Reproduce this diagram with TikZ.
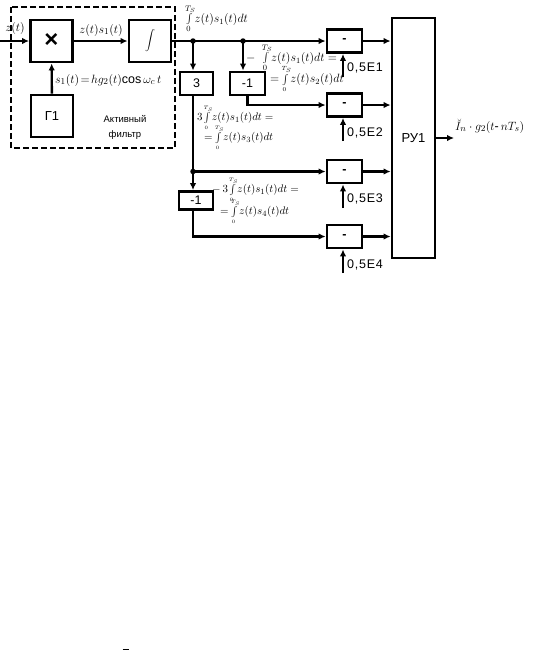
\documentclass[tikz,border=0pt]{standalone}
\usepackage{fontspec}
\setmainfont{Liberation Sans}
\usetikzlibrary{arrows.meta}
\begin{document}
\begin{tikzpicture}[x=1pt,y=-1pt,
  blk/.style={draw,line width=2.8pt,inner sep=0pt,minimum width=35pt,minimum height=23pt,font=\fontsize{12.5}{14}\selectfont},
  big/.style={draw,line width=2.8pt,inner sep=0pt,minimum width=42pt,minimum height=42pt,font=\fontsize{13}{15}\selectfont},
  wire/.style={line width=2.4pt},
  arr/.style={wire,-{Latex[length=7pt,width=6.5pt]}},
  lbl/.style={inner sep=0pt,anchor=west},
  fml/.style={inner sep=0pt,anchor=west,font=\fontsize{11.5}{13}\selectfont},
  sfml/.style={inner sep=0pt,anchor=west,font=\fontsize{11}{12}\selectfont},
  jdot/.style={circle,fill,inner sep=0pt,minimum size=5.5pt},
  ctl/.style={inner sep=0pt,anchor=west,font=\fontsize{12.5}{14}\selectfont\addfontfeatures{LetterSpace=6}}]
\useasboundingbox (0,0) rectangle (536,651);

% active filter frame
\draw[dashed,line width=1.6pt,dash pattern=on 6pt off 3pt] (11,7) rectangle (175,148);

% blocks
\node[big] (mul) at (51.5,41) {\fontsize{24}{26}\selectfont\textbf{×}};
\node[big] (int) at (150,41) {\fontsize{14}{16}\selectfont$\displaystyle\int$};
\node[big] (g1) at (52,116) {Г1};
\node[blk,minimum width=33pt] (b3) at (196.5,83.5) {3};
\node[blk] (n1) at (247.5,83.5) {-1};
\node[blk,minimum width=34pt,minimum height=18pt] (n2) at (196,200.5) {-1};
\node[blk] (m1) at (344.5,41) {\textbf{-}};
\node[blk] (m2) at (344.5,105) {\textbf{-}};
\node[blk] (m3) at (344.5,171.5) {\textbf{-}};
\node[blk] (m4) at (344.5,236.5) {\textbf{-}};
\node[draw,line width=2.8pt,minimum width=43pt,minimum height=240pt,inner sep=0pt,font=\fontsize{13}{15}\selectfont] (ru) at (413.5,138) {РУ1};

% coordinates
\coordinate (in) at (0,41);
\node[jdot] (j1) at (193,41) {};
\node[jdot] (j2) at (243,41) {};
\node[jdot] (j3) at (193,171.5) {};
\coordinate (f1) at (343,77);
\coordinate (f2) at (343,141);
\coordinate (f3) at (343,208);
\coordinate (f4) at (343,273);
\coordinate (out) at (454,138);

% connectors
\draw[arr] (in) -- (mul);
\draw[arr] (mul) -- (int);
\draw[arr] (g1) -- (mul);
\draw[arr] (int.east) -- (m1.west);
\draw[arr] (j1.center) -- (j1 |- b3.north);
\draw[arr] (j2.center) -- (j2 |- n1.north);
\draw[arr] (n1.south) |- (m2.west);
\draw[wire] (j1 |- b3.south) -- (j3.center);
\draw[arr] (j3.center) -- (m3.west);
\draw[arr] (j3.center) -- (j3 |- n2.north);
\draw[arr] (j3 |- n2.south) |- (m4.west);
\draw[arr] (m1.east) -- (m1.east -| ru.west);
\draw[arr] (m2.east) -- (m2.east -| ru.west);
\draw[arr] (m3.east) -- (m3.east -| ru.west);
\draw[arr] (m4.east) -- (m4.east -| ru.west);
\draw[arr] (f1) -- (f1 |- m1.south);
\draw[arr] (f2) -- (f2 |- m2.south);
\draw[arr] (f3) -- (f3 |- m3.south);
\draw[arr] (f4) -- (f4 |- m4.south);
\draw[arr] (ru.east) -- (out);

% threshold labels
\node[ctl] (t1) at (347,68) {0,5E1};
\node[ctl] (t2) at (347,133) {0,5E2};
\node[ctl] (t3) at (347,199) {0,5E3};
\node[ctl] (t4) at (347,265) {0,5E4};

% filter labels
\node[inner sep=0pt,font=\fontsize{12}{13}\selectfont] (lz) at (15,28) {$z(t)$};
\node[inner sep=0pt,font=\fontsize{12.5}{13}\selectfont] (lzs) at (101,30) {$z(t)s_1(t)$};
\node[lbl,font=\fontsize{12.5}{13}\selectfont] (ls) at (55,80) {$s_1(t)\!=\!hg_2(t)\mathrm{cos}\,\omega_c\, t$};
\node[inner sep=0pt,align=center,font=\fontsize{9.5}{15}\selectfont] (laf) at (125,127) {Активный\\фильтр};

% integral labels
\node[fml] (i1) at (184,19) {$\int\limits_0^{T_S}\! z(t)s_1(t)dt$};
\node[fml] (i2) at (246,58) {$-\;\int\limits_0^{T_S}\! z(t)s_1(t)dt=$};
\node[fml] (i3) at (270,79) {$=\!\int\limits_{\scriptscriptstyle 0}^{\scriptscriptstyle T_S}\! z(t)s_2(t)dt$};
\node[sfml] (i4) at (197,118) {$3\!\int\limits_{\scriptscriptstyle 0}^{\scriptscriptstyle T_S}\! z(t)s_1(t)dt=$};
\node[sfml] (i5) at (204,138) {$=\!\int\limits_{\scriptscriptstyle 0}^{\scriptscriptstyle T_S}\! z(t)s_3(t)dt$};
\node[sfml] (i6) at (212,190) {$-\,3\!\int\limits_{\scriptscriptstyle 0}^{\scriptscriptstyle T_S}\! z(t)s_1(t)dt=$};
\node[sfml] (i7) at (220,212) {$=\!\int\limits_{\scriptscriptstyle 0}^{\scriptscriptstyle T_S}\! z(t)s_4(t)dt$};

% output label
\node[lbl,font=\fontsize{12.5}{14}\selectfont] (lo) at (455,126) {$\breve{I}_n\cdot g_2(t\mbox{-}\,nT_s)$};

% stray mark
\draw[line width=0.8pt] (122.5,649) -- (128.5,649);
\end{tikzpicture}
\end{document}
